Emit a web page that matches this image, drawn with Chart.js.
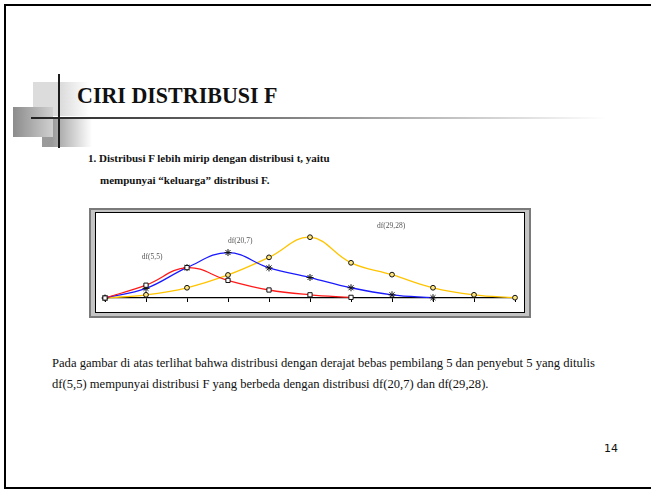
<!DOCTYPE html>
<html>
<head>
<meta charset="utf-8">
<script src="https://cdn.jsdelivr.net/npm/chart.js@4.4.1/dist/chart.umd.min.js"></script>
<style>
  html, body { margin: 0; padding: 0; background: #fff; overflow: hidden; }
  body { width: 651px; height: 490px; position: relative; font-family: "Liberation Serif", "Times New Roman", serif; }
  .frame { position: absolute; left: 4px; top: 4px; width: 660px; height: 481px; border: 2px solid #000; border-right: 0; }
  .blk { position: absolute; }
  .b1 { left: 33px; top: 82px; width: 56px; height: 34px; background: linear-gradient(to right, #dcdcdc 50%, #fff); }
  .b2 { left: 42px; top: 117px; width: 50px; height: 30px; background: linear-gradient(to right, #9a9a9a 20%, #fff); }
  .b3 { left: 13px; top: 107px; width: 40px; height: 30px; background: linear-gradient(to right, #8c8c8c, #d0d0d0); }
  .vline { position: absolute; left: 58px; top: 74px; width: 2px; height: 74px; background: #1c1c1c; }
  .hline { position: absolute; left: 31px; top: 117px; width: 575px; height: 2px; background: linear-gradient(to right, #222, #777 40%, #fff); }
  .title { position: absolute; left: 77px; top: 83px; font-size: 22px; font-weight: bold; color: #111; white-space: nowrap; transform: scaleY(1.08); transform-origin: left bottom; }
  .bullet { position: absolute; font-size: 11px; font-weight: bold; color: #111; white-space: nowrap; }
  .para { position: absolute; left: 52px; font-size: 12.6px; color: #111; white-space: nowrap; }
  .pg { position: absolute; left: 604px; top: 442px; font-family: "DejaVu Sans", sans-serif; font-size: 11px; color: #111; }
  .box-out { position: absolute; left: 89px; top: 208px; width: 438px; height: 106px; background: #c4c4c4; border: 2px solid #7a7a7a; }
  .box-in { position: absolute; left: 95px; top: 212px; width: 428px; height: 99px; background: #fff; border: 1px solid #000; }
  #chart { position: absolute; left: 96px; top: 213px; }
</style>
</head>
<body>
<div class="frame"></div>
<div class="blk b1"></div>
<div class="blk b2"></div>
<div class="blk b3"></div>
<div class="hline"></div>
<div class="vline"></div>
<div class="title">CIRI DISTRIBUSI F</div>
<div class="bullet" style="left:88px; top:152px;">1. Distribusi F lebih mirip dengan distribusi t, yaitu</div>
<div class="bullet" style="left:100px; top:174px;">mempunyai “keluarga” distribusi F.</div>
<div class="box-out"></div>
<div class="box-in"></div>
<canvas id="chart" width="428" height="99"></canvas>
<div class="para" style="top:356px;">Pada gambar di atas terlihat bahwa distribusi dengan derajat bebas pembilang 5 dan penyebut 5 yang ditulis</div>
<div class="para" style="top:377px;">df(5,5) mempunyai distribusi F yang berbeda dengan distribusi df(20,7) dan df(29,28).</div>
<div class="pg">14</div>

<script>
// values (arbitrary height units)
const categories = ["0", "1", "2", "3", "4", "5", "6", "7", "8", "9", "10"];
const df55 = [0, 4.0, 9.5, 5.5, 2.5, 1.0, 0.2, null, null, null, null];
const df207 = [0, 3.0, 9.5, 14.2, 9.4, 6.4, 3.2, 1.0, 0.1, null, null];
const df2928 = [0, 1.0, 3.2, 7.2, 12.7, 19.0, 11.0, 7.3, 3.2, 1.0, 0.1];

// curve captions, placed in data coordinates
const curveNames = ["df(5,5)", "df(20,7)", "df(29,28)"];
const nameX = [1.15, 3.3, 6.98];
const nameY = [12.7, 17.8, 22.6];

const captions = {
  id: "captions",
  afterDatasetsDraw(chart) {
    const { ctx, scales } = chart;
    ctx.save();
    ctx.font = '7.5px "Liberation Serif", serif';
    ctx.fillStyle = "#555";
    ctx.textAlign = "center";
    ctx.textBaseline = "middle";
    curveNames.forEach((name, i) => {
      ctx.fillText(name, scales.x.getPixelForValue(nameX[i]), scales.y.getPixelForValue(nameY[i]));
    });
    ctx.restore();
  },
};

function line(data, color, pointStyle, fill, radius) {
  return {
    data,
    borderColor: color,
    borderWidth: 1.3,
    tension: 0.4,
    pointStyle,
    pointRadius: radius,
    pointBorderColor: "#111",
    pointBackgroundColor: fill,
    pointBorderWidth: 1,
    clip: false,
  };
}

new Chart(document.getElementById("chart"), {
  type: "line",
  data: {
    labels: categories,
    datasets: [
      line(df55, "#ff1a1a", "rect", "#fff", 3),
      line(df207, "#1a1aff", "star", "#111", 3.5),
      line(df2928, "#ffc400", "circle", "#ffe680", 2.4),
    ],
  },
  options: {
    responsive: false,
    devicePixelRatio: 1,
    animation: false,
    layout: { padding: { left: 9, right: 9, top: 2, bottom: 10 } },
    scales: {
      x: {
        type: "category",
        offset: false,
        border: { display: true, color: "#000", width: 1.3 },
        grid: { display: true, drawOnChartArea: false, drawTicks: true, tickLength: 4, color: "#000" },
        ticks: { display: false },
      },
      y: { display: false, min: 0, max: 25 },
    },
    plugins: { legend: { display: false }, tooltip: { enabled: false } },
  },
  plugins: [captions],
});
</script>
</body>
</html>
